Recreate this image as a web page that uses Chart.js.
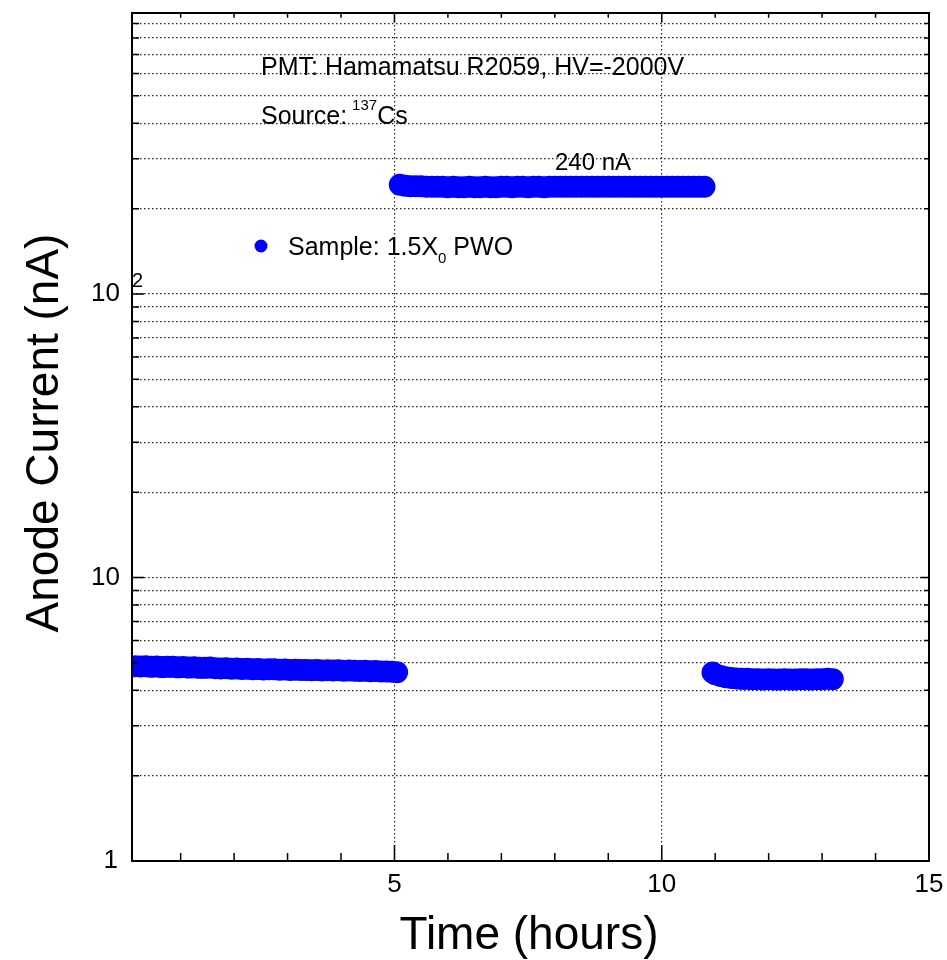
<!DOCTYPE html>
<html>
<head>
<meta charset="utf-8">
<script src="https://cdn.jsdelivr.net/npm/chart.js@4.4.0/dist/chart.umd.min.js"></script>
<style>
  body { margin: 0; background: #fff; }
  #wrap { width: 947px; height: 960px; }
</style>
</head>
<body>
<div id="wrap"><canvas id="graph"></canvas></div>
<script>
// before irradiation
var time1 = [0.15, 0.25, 0.35, 0.45, 0.55, 0.65, 0.75, 0.85, 0.95, 1.05,
             1.15, 1.25, 1.35, 1.45, 1.55, 1.65, 1.75, 1.85, 1.95, 2.05,
             2.15, 2.25, 2.35, 2.45, 2.55, 2.65, 2.75, 2.85, 2.95, 3.05,
             3.15, 3.25, 3.35, 3.45, 3.55, 3.65, 3.75, 3.85, 3.95, 4.05,
             4.15, 4.25, 4.35, 4.45, 4.55, 4.65, 4.75, 4.85, 4.95, 5.05];
var current1 = [4.86, 4.85, 4.86, 4.84, 4.85, 4.83, 4.84, 4.84, 4.82, 4.83,
                4.81, 4.82, 4.80, 4.80, 4.81, 4.79, 4.78, 4.79, 4.77, 4.78,
                4.76, 4.77, 4.75, 4.76, 4.74, 4.75, 4.75, 4.73, 4.74, 4.72,
                4.73, 4.72, 4.72, 4.71, 4.72, 4.70, 4.71, 4.70, 4.71, 4.69,
                4.70, 4.69, 4.68, 4.69, 4.67, 4.68, 4.66, 4.66, 4.65, 4.63];

// Cs source on
var time2 = [5.1, 5.2, 5.3, 5.4, 5.5, 5.6, 5.7, 5.8, 5.9, 6.0,
             6.1, 6.2, 6.3, 6.4, 6.5, 6.6, 6.7, 6.8, 6.9, 7.0,
             7.1, 7.2, 7.3, 7.4, 7.5, 7.6, 7.7, 7.8, 7.9, 8.0,
             8.1, 8.2, 8.3, 8.4, 8.5, 8.6, 8.7, 8.8, 8.9, 9.0,
             9.1, 9.2, 9.3, 9.4, 9.5, 9.6, 9.7, 9.8, 9.9, 10.0,
             10.1, 10.2, 10.3, 10.4, 10.5, 10.6, 10.7, 10.8];
var current2 = [243, 241, 240, 240, 240, 239, 239, 239, 239, 238,
                239, 238, 238, 239, 238, 238, 239, 238, 238, 239,
                239, 238, 239, 239, 238, 239, 239, 238, 239, 239,
                239, 239, 239, 239, 239, 239, 239, 239, 239, 239,
                239, 239, 239, 239, 239, 239, 239, 239, 239, 239,
                239, 239, 239, 239, 239, 239, 239, 239];

// after irradiation
var time3 = [10.95, 11.0, 11.1, 11.2, 11.3, 11.4, 11.5, 11.6, 11.7, 11.8,
             11.9, 12.0, 12.1, 12.2, 12.3, 12.4, 12.5, 12.6, 12.7, 12.8,
             12.9, 13.0, 13.1, 13.2];
var current3 = [4.62, 4.56, 4.49, 4.45, 4.42, 4.40, 4.39, 4.39, 4.38, 4.38,
                4.37, 4.38, 4.37, 4.37, 4.38, 4.37, 4.37, 4.38, 4.38, 4.37,
                4.38, 4.38, 4.39, 4.38];

var xTickVals = [1, 2, 3, 4, 5, 6, 7, 8, 9, 10, 11, 12, 13, 14];
var xMajor = [5, 10];
var xLabels = [5, 10, 15];
var yTickVals = [1, 2, 3, 4, 5, 6, 7, 8, 9,
                 10, 20, 30, 40, 50, 60, 70, 80, 90,
                 100, 200, 300, 400, 500, 600, 700, 800, 900];
var yMajor = [1, 10, 100];

function pts(xs, ys) {
    return xs.map(function (t, i) { return { x: t, y: ys[i] }; });
}

var FONT = '"Liberation Sans", Arial, Helvetica, sans-serif';

// ROOT style frame, inner ticks, labels and texts
var rootStyle = {
    id: 'rootStyle',
    afterDraw: function (chart) {
        var ctx = chart.ctx, a = chart.chartArea;
        var x = chart.scales.x, y = chart.scales.y;
        ctx.save();
        ctx.strokeStyle = '#000';
        ctx.lineWidth = 1.5;
        xTickVals.concat([15]).forEach(function (v) {
            var px = x.getPixelForValue(v);
            var len = (v % 5 === 0) ? 16 : 8;
            ctx.beginPath();
            ctx.moveTo(px, a.bottom); ctx.lineTo(px, a.bottom - len);
            ctx.moveTo(px, a.top); ctx.lineTo(px, a.top + len * 0.6);
            ctx.stroke();
        });
        yTickVals.forEach(function (v) {
            var py = y.getPixelForValue(v);
            var len = yMajor.indexOf(v) >= 0 ? 12 : 7;
            ctx.beginPath();
            ctx.moveTo(a.left, py); ctx.lineTo(a.left + len, py);
            ctx.moveTo(a.right, py); ctx.lineTo(a.right - len * 0.7, py);
            ctx.stroke();
        });
        ctx.lineWidth = 2;
        ctx.strokeRect(a.left, a.top, a.right - a.left, a.bottom - a.top);

        ctx.fillStyle = '#000';
        // x labels
        ctx.font = '26px ' + FONT;
        ctx.textAlign = 'center';
        ctx.textBaseline = 'alphabetic';
        xLabels.forEach(function (v) {
            ctx.fillText(String(v), x.getPixelForValue(v), 892);
        });
        // y labels
        ctx.textAlign = 'right';
        ctx.textBaseline = 'middle';
        ctx.fillText('1', a.left - 14, y.getPixelForValue(1));
        ctx.fillText('10', a.left - 12, y.getPixelForValue(10));
        ctx.fillText('10', a.left - 12, y.getPixelForValue(100));
        ctx.font = '20px ' + FONT;
        ctx.textAlign = 'left';
        ctx.fillText('2', a.left, y.getPixelForValue(100) - 13);

        // axis titles
        ctx.font = '46px ' + FONT;
        ctx.textAlign = 'center';
        ctx.textBaseline = 'alphabetic';
        ctx.fillText('Time (hours)', 529, 949);
        ctx.save();
        ctx.translate(58, 433);
        ctx.rotate(-Math.PI / 2);
        ctx.fillText('Anode Current (nA)', 0, 0);
        ctx.restore();

        // annotations
        ctx.textAlign = 'left';
        ctx.textBaseline = 'alphabetic';
        ctx.font = '25px ' + FONT;
        ctx.fillText('PMT: Hamamatsu R2059, HV=-2000V', 261, 75);
        var sx = 261;
        ctx.fillText('Source: ', sx, 124);
        sx += ctx.measureText('Source: ').width - 2;
        ctx.font = '15px ' + FONT;
        ctx.fillText('137', sx, 110);
        sx += ctx.measureText('137').width;
        ctx.font = '25px ' + FONT;
        ctx.fillText('Cs', sx, 124);
        ctx.font = '24px ' + FONT;
        ctx.fillText('240 nA', 555, 170);

        // legend
        ctx.fillStyle = '#0000ff';
        ctx.beginPath();
        ctx.arc(261, 246, 6.5, 0, Math.PI * 2);
        ctx.fill();
        ctx.fillStyle = '#000';
        ctx.font = '25px ' + FONT;
        var lx = 288;
        ctx.fillText('Sample: 1.5X', lx, 255);
        lx += ctx.measureText('Sample: 1.5X').width;
        ctx.font = '15px ' + FONT;
        ctx.fillText('0', lx, 263);
        lx += ctx.measureText('0').width;
        ctx.font = '25px ' + FONT;
        ctx.fillText(' PWO', lx, 255);
        ctx.restore();
    }
};

var ctx = document.getElementById('graph').getContext('2d');
var chart = new Chart(ctx, {
    type: 'scatter',
    data: {
        datasets: [
            { label: 'Sample: 1.5X0 PWO', data: pts(time1, current1) },
            { label: 'source on', data: pts(time2, current2) },
            { label: 'after', data: pts(time3, current3) }
        ]
    },
    options: {
        responsive: true,
        maintainAspectRatio: false,
        animation: false,
        layout: { autoPadding: false, padding: { left: 132, right: 18, top: 13, bottom: 99 } },
        datasets: {
            scatter: {
                showLine: true,
                borderColor: '#0000ff',
                borderWidth: 11,
                borderCapStyle: 'round',
                borderJoinStyle: 'round'
            }
        },
        elements: {
            point: { radius: 5.5, backgroundColor: '#0000ff', borderWidth: 0, hoverRadius: 5.5 }
        },
        plugins: { legend: { display: false }, tooltip: { enabled: false } },
        scales: {
            x: {
                type: 'linear',
                min: 0.09,
                max: 15,
                afterBuildTicks: function (s) { s.ticks = xTickVals.map(function (v) { return { value: v }; }); },
                ticks: { display: false },
                grid: {
                    drawTicks: false,
                    lineWidth: 1.2,
                    color: function (c) { return xMajor.indexOf(c.tick && c.tick.value) >= 0 ? '#222' : 'rgba(0,0,0,0)'; }
                },
                border: { display: false, dash: [1.5, 2.5] }
            },
            y: {
                type: 'logarithmic',
                min: 1,
                max: 980,
                afterBuildTicks: function (s) { s.ticks = yTickVals.map(function (v) { return { value: v }; }); },
                ticks: { display: false },
                grid: {
                    drawTicks: false,
                    lineWidth: 1.2,
                    color: function (c) { return (c.tick && c.tick.value === 1) ? 'rgba(0,0,0,0)' : '#222'; }
                },
                border: { display: false, dash: [1.5, 2.5] }
            }
        }
    },
    plugins: [rootStyle]
});
</script>
</body>
</html>
